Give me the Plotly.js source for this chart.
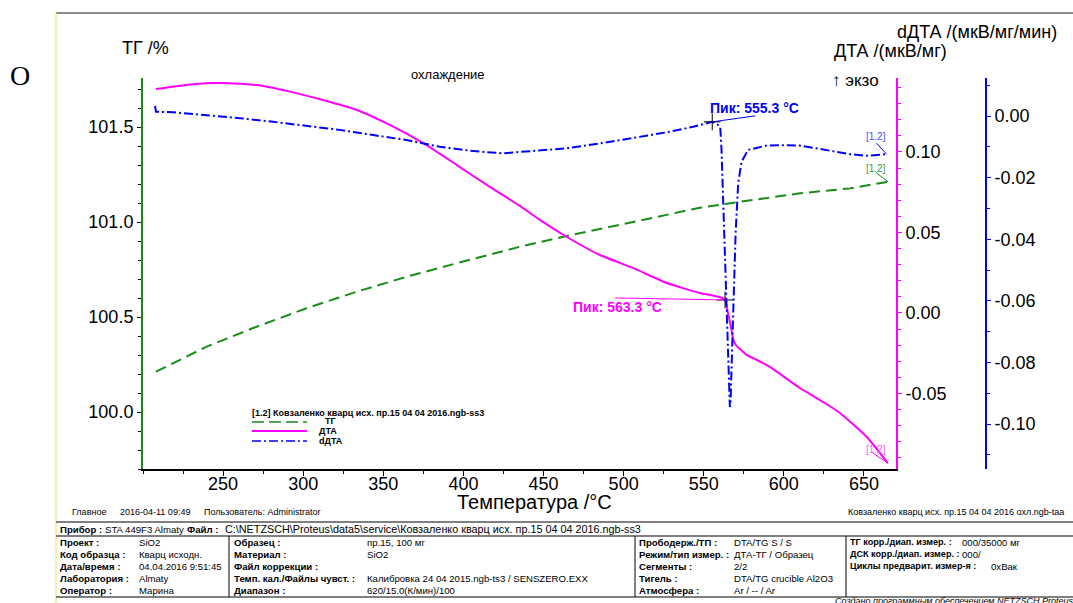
<!DOCTYPE html>
<html><head><meta charset="utf-8">
<script src="https://cdn.plot.ly/plotly-3.0.1.min.js"></script>
<style>html,body{margin:0;padding:0;background:#fff;}#chart{width:1073px;height:603px;}</style>
</head><body><div id="chart"></div>
<script>
// ---- data ----
const tgT   = [208.1, 239.7, 270.9, 302.1, 333.3, 364.6, 395.8, 422.8, 435.3, 464.4, 506.0, 547.6, 570.5, 610.0, 641.2, 665.1];
const tgVal = [100.212, 100.344, 100.449, 100.546, 100.633, 100.712, 100.783, 100.844, 100.870, 100.926, 101.002, 101.075, 101.104, 101.151, 101.177, 101.212];

const dtaT   = [208.1, 229.3, 249.9, 271.1, 291.7, 312.3, 333.5, 354.1, 374.7, 395.9, 416.5, 435.3, 447.7, 464.6, 485.2, 505.8, 527.0, 547.6, 557.0, 561.9, 563.3, 565.1, 567.0, 568.2, 570.0, 572.6, 577.0, 583.2, 591.3, 610.0, 625.6, 635.0, 651.8, 664.9];
const dtaVal = [0.1391, 0.1420, 0.1429, 0.1416, 0.1375, 0.1323, 0.1261, 0.1168, 0.1056, 0.0919, 0.0783, 0.0665, 0.0578, 0.0472, 0.0360, 0.0280, 0.0186, 0.0124, 0.0106, 0.0093, 0.0081, 0.0000, -0.0087, -0.0155, -0.0199, -0.0224, -0.0262, -0.0292, -0.0335, -0.0466, -0.0559, -0.0621, -0.0770, -0.0932];

const ddtaT   = [207.5, 208.1, 218.9, 239.7, 260.5, 281.3, 302.1, 322.9, 343.7, 364.6, 385.3, 406.1, 424.8, 443.5, 464.4, 485.2, 506.0, 526.8, 543.4, 555.3, 559.0, 560.3, 561.1, 562.1, 563.8, 565.3, 565.9, 566.3, 566.7, 567.4, 568.4, 569.9, 571.5, 573.6, 577.7, 585.0, 589.2, 600.0, 610.0, 620.4, 630.8, 641.2, 651.6, 664.1];
const ddtaVal = [0.0033, 0.0014, 0.0012, 0.0003, -0.0007, -0.0019, -0.0031, -0.0045, -0.0062, -0.0078, -0.0100, -0.0114, -0.0121, -0.0114, -0.0105, -0.0089, -0.0072, -0.0053, -0.0035, -0.0019, -0.0029, -0.0036, -0.0110, -0.0273, -0.0597, -0.0814, -0.0932, -0.0945, -0.0932, -0.0814, -0.0597, -0.0380, -0.0218, -0.0148, -0.0110, -0.0100, -0.0096, -0.0095, -0.0096, -0.0105, -0.0114, -0.0124, -0.0129, -0.0124];

const ddtaPeakT = [555.3], ddtaPeakV = [-0.0019];
const dtaPeakT  = [563.3], dtaPeakV  = [0.0081];

const xTickVals = [250, 300, 350, 400, 450, 500, 550, 600, 650];
const xTickText = ['250', '300', '350', '400', '450', '500', '550', '600', '650'];
const tgTickVals = [100.0, 100.5, 101.0, 101.5];
const tgTickText = ['100.0', '100.5', '101.0', '101.5'];
const dtaTickVals = [-0.05, 0.00, 0.05, 0.10];
const dtaTickText = ['-0.05', '0.00', '0.05', '0.10'];
const ddtaTickVals = [-0.10, -0.08, -0.06, -0.04, -0.02, 0.00];
const ddtaTickText = ['-0.10', '-0.08', '-0.06', '-0.04', '-0.02', '0.00'];

// ---- styling ----
const W = 1073, H = 603;
const FONT = 'Liberation Sans, Arial, sans-serif';
const GREEN = '#1a8c1a', MAG = '#ff00ff', BLUE = '#0000ff';
const X = p => p / W, Y = p => 1 - p / H;

const traces = [
  {x: tgT, y: tgVal, yaxis: 'y', mode: 'lines', line: {color: GREEN, width: 2, dash: '11px,6px'}, hoverinfo: 'skip'},
  {x: dtaT, y: dtaVal, yaxis: 'y2', mode: 'lines', line: {color: MAG, width: 2, shape: 'spline', smoothing: 0.5}, hoverinfo: 'skip'},
  {x: ddtaT, y: ddtaVal, yaxis: 'y3', mode: 'lines', line: {color: BLUE, width: 2, dash: '9px,3px,2px,3px'}, hoverinfo: 'skip'},
  {x: ddtaPeakT, y: ddtaPeakV, yaxis: 'y3', mode: 'markers', marker: {symbol: 'cross-thin', size: 12, line: {color: '#000', width: 1}}, cliponaxis: false},
  {x: dtaPeakT, y: dtaPeakV, yaxis: 'y2', mode: 'markers', marker: {symbol: 'cross-thin', size: 12, line: {color: '#000', width: 1}}, cliponaxis: false}
];

const tickFont = {family: FONT, size: 18, color: '#000'};
const dom = [Y(469), Y(78)];

const ann = [];
function txt(t, x, y, size, opts) {
  ann.push(Object.assign({text: t, x: X(x), y: Y(y), xref: 'paper', yref: 'paper', showarrow: false,
    xanchor: 'left', yanchor: 'middle', font: {family: FONT, size: size, color: '#000'}}, opts || {}));
}
// titles & labels
txt('O', 20, 75, 28, {xanchor: 'center', font: {family: 'Liberation Serif, Times New Roman, serif', size: 28, color: '#000'}});
txt('ТГ /%', 120, 48, 18);
txt('ДТА /(мкВ/мг)', 832, 51, 18);
txt('dДТА /(мкВ/мг/мин)', 895, 32, 18);
txt('↑ экзо', 830, 80, 17);
txt('охлаждение', 448, 74, 13, {xanchor: 'center'});
txt('Температура /°C', 534, 502, 20, {xanchor: 'center'});
txt('<b>Пик: 555.3 °C</b>', 754, 108, 14, {xanchor: 'center', font: {family: FONT, size: 14, color: BLUE}});
txt('<b>Пик: 563.3 °C</b>', 617, 307, 14, {xanchor: 'center', font: {family: FONT, size: 14, color: MAG}});
txt('[1.2]', 876, 137, 10, {xanchor: 'center', font: {family: FONT, size: 10, color: '#4b4bff'}});
txt('[1.2]', 876, 168, 10, {xanchor: 'center', font: {family: FONT, size: 10, color: '#3d9b3d'}});
txt('[1.2]', 876, 449, 10, {xanchor: 'center', font: {family: FONT, size: 10, color: '#ff55ff'}});
// legend
txt('<b>[1.2] Ковзаленко кварц исх. пр.15 04 04 2016.ngb-ss3</b>', 250, 413, 9);
txt('<b>ТГ</b>', 323, 421, 9);
txt('<b>ДТА</b>', 317, 431, 9);
txt('<b>dДТА</b>', 317, 441, 9);
// footer
txt('Главное', 70, 512, 9);
txt('2016-04-11 09:49', 118, 512, 9);
txt('Пользователь: Administrator', 202, 512, 9);
txt('Ковзаленко кварц исх. пр.15 04 04 2016 охл.ngb-taa', 1066, 512, 9, {xanchor: 'right'});
// table
const TF = 9.6;
txt('<b>Прибор :</b>', 58, 529, TF);
txt('STA 449F3 Almaty', 103, 529, TF);
txt('<b>Файл :</b>', 185, 529, TF);
txt('C:\\NETZSCH\\Proteus\\data5\\service\\Ковзаленко кварц исх. пр.15 04 04 2016.ngb-ss3', 223, 529, 10.8);
const rowsY = [542, 554, 566, 578, 590];
const col1L = ['Проект :', 'Код образца :', 'Дата/время :', 'Лаборатория :', 'Оператор :'];
const col1V = ['SiO2', 'Кварц исходн.', '04.04.2016 9:51:45', 'Almaty', 'Марина'];
const col2L = ['Образец :', 'Материал :', 'Файл коррекции :', 'Темп. кал./Файлы чувст. :', 'Диапазон :'];
const col2V = ['пр.15, 100 мг', 'SiO2', '', 'Калибровка 24 04 2015.ngb-ts3 / SENSZERO.EXX', '620/15.0(К/мин)/100'];
const col3L = ['Прободерж./ТП :', 'Режим/тип измер. :', 'Сегменты :', 'Тигель :', 'Атмосфера :'];
const col3V = ['DTA/TG S / S', 'ДТА-ТГ / Образец', '2/2', 'DTA/TG crucible Al2O3', 'Ar / -- / Ar'];
const col4L = ['ТГ корр./диап. измер. :', 'ДСК корр./диап. измер. :', 'Циклы предварит. измер-я :', '', ''];
const col4V = ['000/35000 мг', '000/', '0xВак', '', ''];
const cols = [[col1L, col1V, 58, [137, 137, 137, 137, 137], TF], [col2L, col2V, 232, [365, 365, 365, 365, 365], TF],
              [col3L, col3V, 637, [732, 732, 732, 732, 732], TF], [col4L, col4V, 848, [960, 960, 989, 960, 960], 9.1]];
cols.forEach(c => {
  rowsY.forEach((ry, i) => {
    if (c[0][i]) txt('<b>' + c[0][i] + '</b>', c[2], ry, c[4]);
    if (c[1][i]) txt(c[1][i], c[3][i], ry, TF);
  });
});
txt('<i>Создано программным обеспечением NETZSCH Proteus</i>', 833, 601, 9);

const shapes = [];
function pline(x0, y0, x1, y1, color, width, dash) {
  shapes.push({type: 'line', xref: 'paper', yref: 'paper', x0: X(x0), y0: Y(y0), x1: X(x1), y1: Y(y1),
    line: {color: color, width: width, dash: dash || 'solid'}});
}
pline(56, 13, 1073, 13, '#666', 1.5);
pline(56, 13, 56, 603, '#e8e070', 1);
pline(56, 522, 1073, 522, '#000', 1);
pline(56, 536, 1073, 536, '#000', 1);
pline(56, 597, 1073, 597, '#000', 1);
pline(229, 536, 229, 597, '#000', 1);
pline(635, 536, 635, 597, '#000', 1);
pline(846, 536, 846, 597, '#000', 1);
// legend samples
pline(252, 422, 307, 422, GREEN, 1.5, '12px,5px');
pline(252, 431, 307, 431, MAG, 2);
pline(252, 441, 307, 441, BLUE, 1.5, '9px,3px,2px,3px');
// leader lines anchored to data points (pixel offsets)
function leader(xa, ya, yref, dx, dy, color) {
  shapes.push({type: 'line', xref: 'x', yref: yref, xsizemode: 'pixel', ysizemode: 'pixel',
    xanchor: xa, yanchor: ya, x0: 0, y0: 0, x1: dx, y1: dy, line: {color: color, width: 1}});
}
leader(ddtaPeakT[0], ddtaPeakV[0], 'y3', 43, 6, BLUE);
leader(dtaPeakT[0], dtaPeakV[0], 'y2', -110, 2, MAG);
leader(ddtaT[ddtaT.length - 1], ddtaVal[ddtaVal.length - 1], 'y3', -10, 11, BLUE);
leader(tgT[tgT.length - 1], tgVal[tgVal.length - 1], 'y', -12, 9, GREEN);
leader(dtaT[dtaT.length - 1], dtaVal[dtaVal.length - 1], 'y2', -15, 10, MAG);

const layout = {
  width: W, height: H, margin: {l: 0, r: 0, t: 0, b: 0}, paper_bgcolor: '#fff', plot_bgcolor: 'rgba(0,0,0,0)',
  showlegend: false,
  xaxis: {domain: [X(143), X(896)], range: [200, 670], tickmode: 'array', tickvals: xTickVals, ticktext: xTickText,
    ticks: 'outside', ticklen: 5, tickcolor: '#000', showline: true, linecolor: '#000', linewidth: 1.5,
    showgrid: false, zeroline: false, tickfont: tickFont, anchor: 'y', ticklabelstandoff: -7,
    minor: {tickmode: 'linear', tick0: 0, dtick: 25, ticks: 'outside', ticklen: 3, tickcolor: '#000', showgrid: false}},
  yaxis: {domain: dom, range: [99.7, 101.758], tickmode: 'array', tickvals: tgTickVals, ticktext: tgTickText,
    ticks: 'outside', ticklen: 4, tickcolor: '#000', showline: true, linecolor: GREEN, linewidth: 2,
    showgrid: false, zeroline: false, tickfont: tickFont, anchor: 'x',
    minor: {tickmode: 'linear', tick0: 0, dtick: 0.1, ticks: 'outside', ticklen: 3, tickcolor: '#000', showgrid: false}},
  yaxis2: {overlaying: 'y', side: 'right', anchor: 'x', range: [-0.0969, 0.14596], tickmode: 'array',
    tickvals: dtaTickVals, ticktext: dtaTickText, ticks: 'outside', ticklen: 4, tickcolor: MAG,
    showline: true, linecolor: MAG, linewidth: 2, showgrid: false, zeroline: false, tickfont: tickFont,
    minor: {tickmode: 'linear', tick0: 0, dtick: 0.01, ticks: 'outside', ticklen: 3, tickcolor: MAG, showgrid: false}},
  yaxis3: {overlaying: 'y', side: 'right', anchor: 'free', position: X(986), range: [-0.11461, 0.01234], tickmode: 'array',
    tickvals: ddtaTickVals, ticktext: ddtaTickText, ticks: 'outside', ticklen: 4, tickcolor: BLUE,
    showline: true, linecolor: BLUE, linewidth: 2, showgrid: false, zeroline: false, tickfont: tickFont,
    minor: {tickmode: 'linear', tick0: 0, dtick: 0.01, ticks: 'outside', ticklen: 3, tickcolor: BLUE, showgrid: false}},
  annotations: ann,
  shapes: shapes
};
Plotly.newPlot('chart', traces, layout, {staticPlot: true, displayModeBar: false});
</script></body></html>
